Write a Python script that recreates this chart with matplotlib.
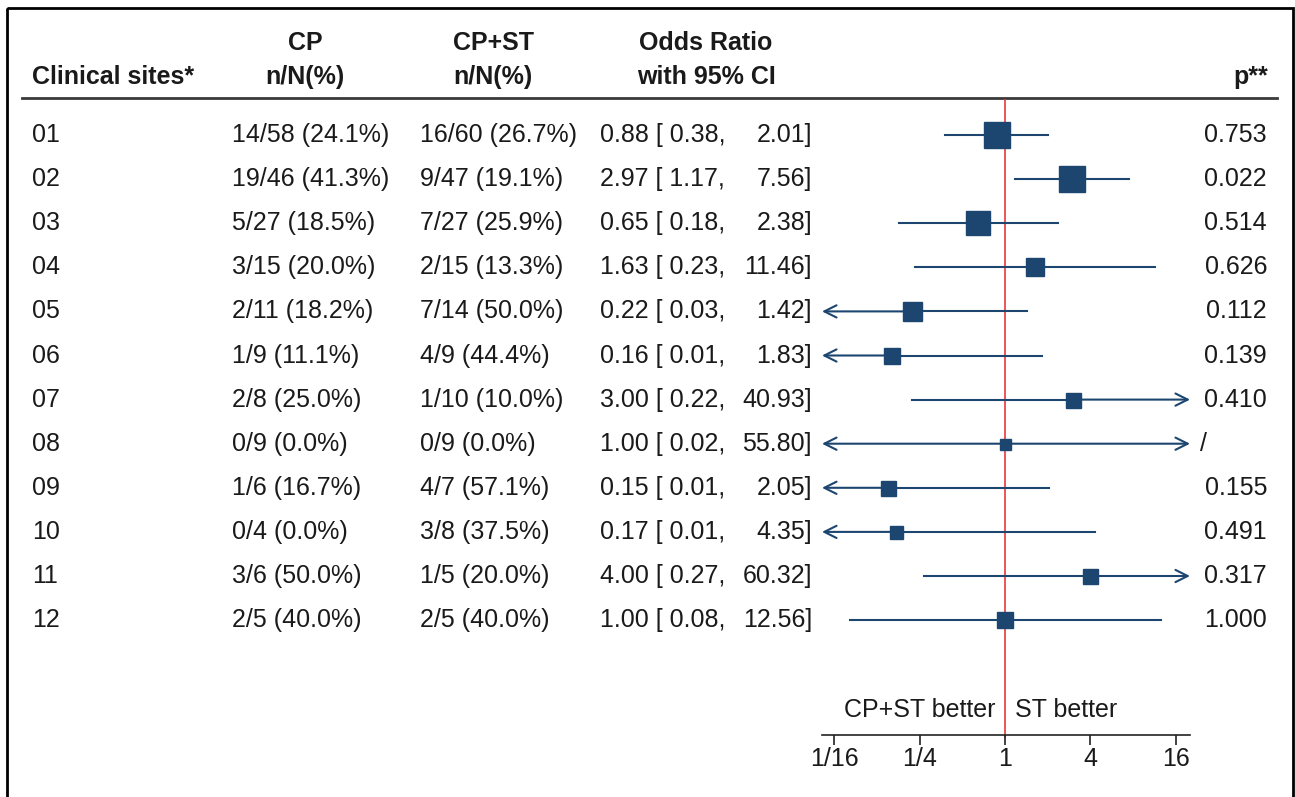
import matplotlib
matplotlib.use("Agg")
import matplotlib.pyplot as plt
from matplotlib.patches import Rectangle

plt.rcParams["font.family"] = ["Liberation Sans", "DejaVu Sans"]

# data
sites = ["01", "02", "03", "04", "05", "06", "07", "08", "09", "10", "11", "12"]
cp_txt = ["14/58 (24.1%)", "19/46 (41.3%)", "5/27 (18.5%)", "3/15 (20.0%)",
          "2/11 (18.2%)", "1/9 (11.1%)", "2/8 (25.0%)", "0/9 (0.0%)",
          "1/6 (16.7%)", "0/4 (0.0%)", "3/6 (50.0%)", "2/5 (40.0%)"]
cpst_txt = ["16/60 (26.7%)", "9/47 (19.1%)", "7/27 (25.9%)", "2/15 (13.3%)",
            "7/14 (50.0%)", "4/9 (44.4%)", "1/10 (10.0%)", "0/9 (0.0%)",
            "4/7 (57.1%)", "3/8 (37.5%)", "1/5 (20.0%)", "2/5 (40.0%)"]
odds = [0.88, 2.97, 0.65, 1.63, 0.22, 0.16, 3.00, 1.00, 0.15, 0.17, 4.00, 1.00]
ci_lo = [0.38, 1.17, 0.18, 0.23, 0.03, 0.01, 0.22, 0.02, 0.01, 0.01, 0.27, 0.08]
ci_hi = [2.01, 7.56, 2.38, 11.46, 1.42, 1.83, 40.93, 55.80, 2.05, 4.35, 60.32, 12.56]
p_txt = ["0.753", "0.022", "0.514", "0.626", "0.112", "0.139", "0.410", "/",
         "0.155", "0.491", "0.317", "1.000"]
box_weight = [27, 26, 24, 18, 19, 16, 15, 11, 15, 13, 15, 16]  # relative box size
ticks = [1 / 16, 1 / 4, 1, 4, 16]
tick_labels = ["1/16", "1/4", "1", "4", "16"]

W, H = 1295, 797
navy = "#1c4670"
txt_c = "#1a1a1a"
fs = 18

fig = plt.figure(figsize=(W / 100, H / 100), dpi=100)
main = fig.add_axes([0, 0, 1, 1])
main.set_xlim(0, W)
main.set_ylim(H, 0)
main.axis("off")

# frame
main.add_patch(Rectangle((7, 8), 1286, 820, fill=False, lw=2, ec="black", clip_on=False))
# header rule
main.plot([22, 1277], [98, 98], color="#3a3a3a", lw=2)

# header
hy1, hy2 = 43, 77
main.text(32, hy2, "Clinical sites*", fontsize=fs, fontweight="bold", ha="left", va="center", color=txt_c)
for cx, l1, l2 in [(305, "CP", "n/N(%)"), (493, "CP+ST", "n/N(%)"), (706, "Odds Ratio", "with 95% CI")]:
    main.text(cx, hy1, l1, fontsize=fs, fontweight="bold", ha="center", va="center", color=txt_c)
    main.text(cx, hy2, l2, fontsize=fs, fontweight="bold", ha="center", va="center", color=txt_c)
main.text(1268, hy2, "p**", fontsize=fs, fontweight="bold", ha="right", va="center", color=txt_c)

row0, dy = 135, 44.1


def row_y(i):
    return row0 + dy * i


for i in range(len(sites)):
    y = row_y(i)
    main.text(32, y, sites[i], fontsize=fs, ha="left", va="center", color=txt_c)
    main.text(232, y, cp_txt[i], fontsize=fs, ha="left", va="center", color=txt_c)
    main.text(420, y, cpst_txt[i], fontsize=fs, ha="left", va="center", color=txt_c)
    main.text(600, y, f"{odds[i]:.2f} [ {ci_lo[i]:.2f},", fontsize=fs, ha="left", va="center", color=txt_c)
    main.text(812, y, f"{ci_hi[i]:.2f}]", fontsize=fs, ha="right", va="center", color=txt_c)
    if p_txt[i] == "/":
        main.text(1200, y, p_txt[i], fontsize=fs, ha="left", va="center", color=txt_c)
    else:
        main.text(1267, y, p_txt[i], fontsize=fs, ha="right", va="center", color=txt_c)

# forest panel: x from 822 px to 1190 px, 1 at 1005 px
px_per_log2 = 42.65
x0_px, x1_px, one_px = 822, 1190, 1005
xmin = 2 ** ((x0_px - one_px) / px_per_log2)
xmax = 2 ** ((x1_px - one_px) / px_per_log2)
top_px, bot_px = 100, 735
ax = fig.add_axes([x0_px / W, 1 - bot_px / H, (x1_px - x0_px) / W, (bot_px - top_px) / H])
ax.set_xscale("log", base=2)
ax.set_xlim(xmin, xmax)
ax.set_ylim((bot_px - row0) / dy, (top_px - row0) / dy)
ax.patch.set_alpha(0)
for s in ["top", "right", "left"]:
    ax.spines[s].set_visible(False)
ax.spines["bottom"].set_color("#222222")
ax.spines["bottom"].set_linewidth(1.2)
ax.set_yticks([])
ax.set_xticks(ticks)
ax.set_xticklabels(tick_labels, fontsize=fs, color=txt_c)
ax.minorticks_off()
ax.tick_params(axis="x", direction="out", length=7, width=1.2, color="#222222", pad=2)

ax.plot([1, 1], [ax.get_ylim()[0] + 0.05, ax.get_ylim()[1]], color="#e8383d", lw=1.2, clip_on=False, zorder=1)

arrow_kw = dict(arrowstyle="->", color=navy, lw=1.5, shrinkA=0, shrinkB=0, mutation_scale=22)
for i in range(len(sites)):
    lo_c = ci_lo[i] < xmin
    hi_c = ci_hi[i] > xmax
    lo = max(ci_lo[i], xmin)
    hi = min(ci_hi[i], xmax)
    if lo_c:
        ax.annotate("", xy=(lo, i), xytext=(odds[i], i), arrowprops=arrow_kw, zorder=2)
    else:
        ax.plot([lo, odds[i]], [i, i], color=navy, lw=1.5, zorder=2)
    if hi_c:
        ax.annotate("", xy=(hi, i), xytext=(odds[i], i), arrowprops=arrow_kw, zorder=2)
    else:
        ax.plot([odds[i], hi], [i, i], color=navy, lw=1.5, zorder=2)
    ax.plot([odds[i]], [i], marker="s", ms=box_weight[i] * 0.72, color=navy, mec=navy, zorder=3)

# direction labels
main.text(995, 710, "CP+ST better", fontsize=fs, ha="right", va="center", color=txt_c)
main.text(1015, 710, "ST better", fontsize=fs, ha="left", va="center", color=txt_c)

fig.savefig("out.png", dpi=100)
